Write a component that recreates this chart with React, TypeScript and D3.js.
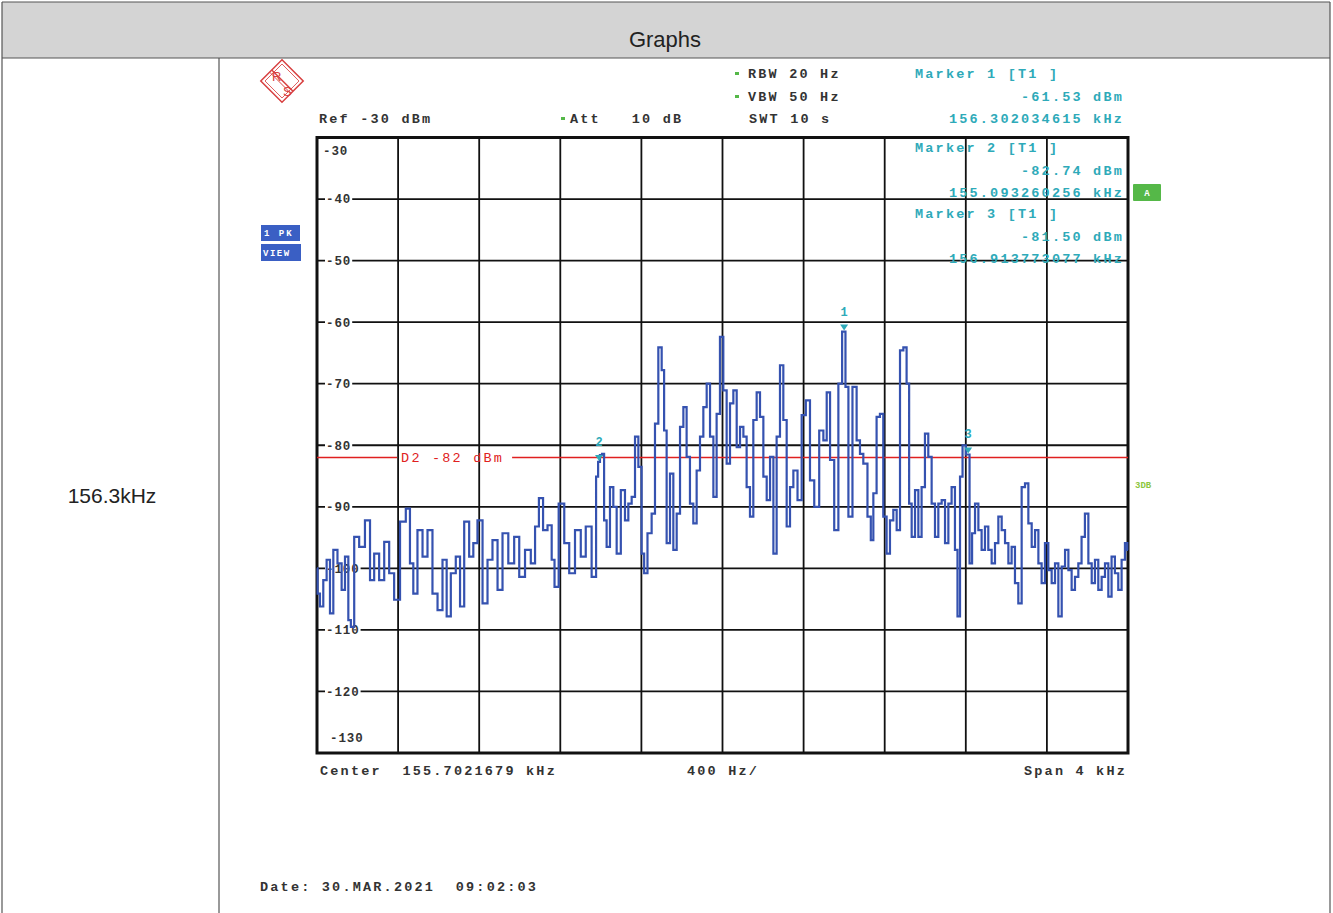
import React, { useEffect } from "react";
import * as d3 from "d3";

// instrument settings
const centerKHz = 155.7021679;
const spanHz = 4000;
const divHz = 400;
const levelTop = -30;
const levelBottom = -130;
const displayLineDbm = -82;

const traceHz = [
  0, 6, 23, 39, 56, 72, 89, 113, 130, 146, 163, 171, 196, 220, 253, 270, 294, 319, 344, 368, 393,
  426, 450, 467, 483, 508, 533, 557, 582, 607, 631, 648, 672, 697, 714, 738, 763, 779, 804, 829,
  853, 878, 903, 927, 960, 985, 1010, 1042, 1067, 1084, 1105, 1125, 1149, 1166, 1177, 1207, 1232,
  1256, 1289, 1313, 1338,
  1371, 1382, 1391, 1400, 1412, 1420, 1437, 1453, 1470, 1486, 1511, 1527, 1544, 1560, 1577, 1593,
  1609, 1618, 1642, 1659, 1675, 1692, 1708, 1716, 1733, 1749, 1766, 1782, 1799, 1815, 1831, 1848,
  1864, 1881, 1897, 1914, 1930, 1947, 1963, 1979, 1996, 2012, 2029, 2045, 2062, 2078, 2095, 2111,
  2127, 2144, 2160, 2177, 2193, 2210, 2226, 2243, 2259, 2275, 2292, 2308, 2325, 2341, 2358, 2382,
  2399, 2423, 2440, 2465, 2489, 2506, 2522, 2539, 2563, 2580, 2600, 2613, 2629, 2653, 2670, 2686,
  2703, 2727, 2736, 2752, 2768, 2785, 2801, 2818, 2834, 2851, 2867, 2884, 2900, 2916, 2925, 2941,
  2958, 2974, 2990, 3007, 3023, 3040, 3056, 3073, 3089, 3106, 3122, 3138, 3155, 3163, 3180, 3188,
  3212, 3225, 3237, 3254, 3270, 3286, 3303, 3319, 3336, 3352, 3369, 3385, 3402, 3418, 3434, 3451,
  3467, 3484, 3500, 3517, 3533, 3550, 3566, 3582, 3599, 3615, 3632, 3648, 3665, 3681, 3698, 3714,
  3730, 3747, 3763, 3779, 3796, 3813, 3829, 3845, 3862, 3878, 3895, 3911, 3927, 3944, 3960, 3977,
  3993, 4000,
];
const traceDbm = [
  -100, -104.1, -106.2, -101.9, -98.6, -107.3, -97.0, -99.2, -103.5, -98.1, -108.4, -109.5, -94.9,
  -96.5, -92.2, -101.9, -97.6, -101.9, -95.7, -100.8, -105.1, -92.4, -90.3, -99.2, -104.1, -93.8,
  -98.1, -93.8, -104.1, -106.8, -98.6, -107.8, -100.8, -98.1, -106.2, -92.4, -98.1, -95.9, -92.2,
  -105.7, -98.6, -95.4, -103.5, -94.3, -99.2, -94.9, -101.4, -97.0, -99.2, -93.2, -88.6, -93.8,
  -93.0, -98.6, -103.0, -89.5, -95.9, -100.8, -93.8, -98.1, -93.2,
  -101.4, -85.1, -82.7, -81.6, -81.4, -92.2, -96.5, -86.8, -90.0, -97.6, -87.3, -92.2, -89.5,
  -88.4, -78.6, -83.5, -97.6, -100.8, -94.3, -91.1, -76.5, -64.1, -67.8, -77.6, -95.9, -84.6,
  -97.0, -91.1, -77.0, -73.8, -81.9, -89.5, -92.7, -84.1, -78.6, -73.8, -70.0, -78.6, -88.4,
  -74.9, -62.4, -71.1, -83.0, -73.2, -71.1, -80.3, -77.0, -78.6, -86.8, -91.6, -75.9, -71.4,
  -75.4, -85.1, -88.9, -81.9, -97.6, -78.6, -67.0, -75.9, -93.2, -86.8, -84.1, -88.9, -75.1,
  -72.7, -85.7, -90.0, -77.6, -79.2, -71.4, -82.4, -93.8, -70.0, -61.53, -70.5, -91.6, -70.5,
  -79.2, -81.4,
  -83.0, -91.6, -95.4, -87.8, -75.4, -74.9, -91.6, -97.6, -92.2, -90.5, -93.8, -64.6, -64.1,
  -70.0, -89.5, -94.9, -87.3, -94.9, -86.8, -78.1, -81.9, -89.5, -94.9, -89.5, -88.9, -95.9,
  -89.5, -86.8, -97.0, -107.8, -85.1, -80.0, -81.5, -99.2, -94.3, -89.5, -93.8, -97.0, -93.2,
  -97.0, -99.2, -95.9, -91.6, -93.8, -95.9, -99.2, -96.5, -102.4, -105.7, -86.8, -86.2, -92.7,
  -96.5, -93.8, -99.2, -102.4, -95.9, -100.3, -102.4, -99.2, -107.8, -99.7, -97.0, -100.3,
  -103.5, -101.4, -99.2, -94.9, -91.1, -99.2, -102.4, -98.6, -103.5, -101.4, -99.2, -104.6,
  -98.1, -100.8, -103.5, -98.6, -95.9, -97.0,
];

// markers
const markerIds = ["1", "2", "3"];
const markerKHz = [156.302034615, 155.093260256, 156.913773077];
const markerDbm = [-61.53, -82.74, -81.5];

const mono = "'Liberation Mono', 'DejaVu Sans Mono', monospace";
const sans = "'Liberation Sans', Arial, sans-serif";
const teal = "#2eaab9";
const traceBlue = "#3552b0";
const green = "#55b848";

export default function App() {
  useEffect(() => {
    document.body.style.margin = "0";
  }, []);

  const W = 1333;
  const H = 913;
  const plot = { left: 317, right: 1128, top: 137.5, bottom: 753 };

  const startKHz = centerKHz - spanHz / 2000;
  const x = d3.scaleLinear([0, spanHz], [plot.left, plot.right]);
  const y = d3.scaleLinear([levelBottom, levelTop], [plot.bottom, plot.top]);

  const vTicks = d3.range(0, spanHz + 1, divHz);
  const hTicks = d3.range(levelBottom, levelTop + 1, 10);

  const pts: [number, number][] = traceHz.map((f, i) => [f, traceDbm[i]]);
  const line = d3
    .line<[number, number]>()
    .x((d) => x(d[0]))
    .y((d) => y(d[1]))
    .curve(d3.curveStep);

  const txt = (props: any) => ({
    fontFamily: mono,
    fontWeight: 700,
    fontSize: 13.5,
    letterSpacing: 2.2,
    style: { whiteSpace: "pre" as const },
    ...props,
  });

  const dlY = y(displayLineDbm);
  const dlLabelX = x(divHz) + 3;

  const markerBlocks = markerIds.map((id, i) => {
    const top = [73, 147, 213][i];
    const dy = [0, 23, 45];
    return (
      <g key={id} fill={teal}>
        <text {...txt({ x: 915, y: top + dy[0], dy: "0.35em" })}>{`Marker ${id} [T1 ]`}</text>
        <text {...txt({ x: 1124, y: top + dy[1], dy: "0.35em", textAnchor: "end" })}>
          {`${markerDbm[i].toFixed(2)} dBm`}
        </text>
        <text {...txt({ x: 1124, y: top + dy[2], dy: "0.35em", textAnchor: "end" })}>
          {`${markerKHz[i].toFixed(9)} kHz`}
        </text>
      </g>
    );
  });

  return (
    <svg width={W} height={H} style={{ display: "block" }}>
      <rect width={W} height={H} fill="#fff" />

      {/* table */}
      <rect x={2} y={2} width={1328} height={56} fill="#d4d4d4" />
      <g stroke="#555" strokeWidth={1.2} fill="none">
        <line x1={2} y1={2} x2={1330} y2={2} />
        <line x1={2} y1={58} x2={1330} y2={58} />
        <line x1={2} y1={2} x2={2} y2={H} />
        <line x1={1330} y1={2} x2={1330} y2={H} />
        <line x1={219} y1={58} x2={219} y2={H} />
      </g>
      <text x={665} y={47} textAnchor="middle" fontFamily={sans} fontSize={22} fill="#222">
        Graphs
      </text>
      <text x={112} y={503} textAnchor="middle" fontFamily={sans} fontSize={21} fill="#222">
        156.3kHz
      </text>

      {/* R&S logo */}
      <g transform="translate(282,81) rotate(45)" stroke="#d84040" fill="none" strokeWidth={1.5}>
        <rect x={-15} y={-15} width={30} height={30} />
        <rect x={-12} y={-12} width={24} height={24} strokeWidth={0.8} />
        <line x1={-15} y1={-0.5} x2={15} y2={-0.5} />
        <line x1={-15} y1={2.5} x2={15} y2={2.5} strokeWidth={0.9} />
      </g>
      <text x={272} y={81} fontFamily={sans} fontSize={13} fill="#d84040">R</text>
      <text x={283} y={96} fontFamily={sans} fontSize={13} fill="#d84040">S</text>

      {/* settings */}
      <g fill="#333">
        <text {...txt({ x: 319, y: 118, dy: "0.35em" })}>Ref -30 dBm</text>
        <text {...txt({ x: 570, y: 118, dy: "0.35em" })}>Att   10 dB</text>
        <text {...txt({ x: 748, y: 73, dy: "0.35em" })}>RBW 20 Hz</text>
        <text {...txt({ x: 748, y: 96, dy: "0.35em" })}>VBW 50 Hz</text>
        <text {...txt({ x: 749, y: 118, dy: "0.35em" })}>SWT 10 s</text>
      </g>
      <g fill={green}>
        <rect x={735} y={72} width={4} height={3} />
        <rect x={735} y={95} width={4} height={3} />
        <rect x={561} y={117} width={4} height={3} />
      </g>

      {/* side boxes */}
      <rect x={261} y={225} width={39} height={16} fill="#3a5fc4" />
      <rect x={261} y={244} width={40} height={17} fill="#3a5fc4" />
      <text x={264} y={236} fontFamily={mono} fontSize={9} fontWeight={700} fill="#fff" letterSpacing={2}
        style={{ whiteSpace: "pre" }}>1 PK</text>
      <text x={263} y={256} fontFamily={mono} fontSize={9} fontWeight={700} fill="#fff" letterSpacing={1.5}>VIEW</text>
      <rect x={1133} y={184} width={28} height={17} fill={green} rx={1} />
      <text x={1147} y={196} textAnchor="middle" fontFamily={mono} fontSize={9} fontWeight={700} fill="#fff">A</text>
      <text x={1135} y={488} fontFamily={mono} fontSize={9} fontWeight={700} fill="#8cc640">3DB</text>

      {/* grid */}
      <g stroke="#111" strokeWidth={1.8}>
        {vTicks.map((t) => (
          <line key={"v" + t} x1={x(t)} x2={x(t)} y1={plot.top} y2={plot.bottom} />
        ))}
        {hTicks.map((t) => (
          <line key={"h" + t} x1={plot.left} x2={plot.right} y1={y(t)} y2={y(t)} />
        ))}
      </g>
      <rect
        x={plot.left}
        y={plot.top}
        width={plot.right - plot.left}
        height={plot.bottom - plot.top}
        fill="none"
        stroke="#111"
        strokeWidth={3}
      />

      {/* level labels */}
      {hTicks.map((t) => {
        const edge = t === levelTop || t === levelBottom;
        const ty = t === levelTop ? y(t) + 13 : t === levelBottom ? y(t) - 15 : y(t);
        const tx = t === levelBottom ? 330 : edge ? 323 : 326;
        const label = String(t);
        return (
          <g key={"l" + t}>
            {!edge && <rect x={tx - 1} y={ty - 7} width={label.length * 8.4 + 2} height={14} fill="#fff" />}
            <text
              x={tx}
              y={ty}
              dy="0.35em"
              fontFamily={mono}
              fontWeight={700}
              fontSize={12.5}
              letterSpacing={0.9}
              fill="#333"
            >
              {label}
            </text>
          </g>
        );
      })}

      {/* marker readouts over the grid */}
      {markerBlocks}

      {/* display line */}
      <g stroke="#e02020" strokeWidth={1.6}>
        <line x1={plot.left} x2={dlLabelX - 4} y1={dlY} y2={dlY} />
        <line x1={dlLabelX + 111} x2={plot.right} y1={dlY} y2={dlY} />
      </g>
      <text {...txt({ x: dlLabelX, y: dlY, dy: "0.35em", fill: "#e02020", fontWeight: 400 })}>
        D2 -82 dBm
      </text>

      {/* trace */}
      <path d={line(pts) || ""} fill="none" stroke={traceBlue} strokeWidth={2.2} />

      {/* markers */}
      {markerIds.map((id, i) => {
        const mx = x((markerKHz[i] - startKHz) * 1000);
        const my = y(markerDbm[i]);
        return (
          <g key={"m" + id} fill={teal}>
            <path d={`M${mx - 4},${my - 7}L${mx + 4},${my - 7}L${mx},${my - 1}Z`} />
            <text x={mx} y={my - 16} textAnchor="middle" fontFamily={mono} fontWeight={700} fontSize={12}>
              {id}
            </text>
          </g>
        );
      })}

      {/* bottom */}
      <g fill="#333">
        <text {...txt({ x: 320, y: 770, dy: "0.35em" })}>{`Center  ${centerKHz} kHz`}</text>
        <text {...txt({ x: 687, y: 770, dy: "0.35em" })}>{`${divHz} Hz/`}</text>
        <text {...txt({ x: 1127, y: 770, dy: "0.35em", textAnchor: "end" })}>{`Span 4 kHz`}</text>
        <text {...txt({ x: 260, y: 886, dy: "0.35em" })}>Date: 30.MAR.2021  09:02:03</text>
      </g>
    </svg>
  );
}
